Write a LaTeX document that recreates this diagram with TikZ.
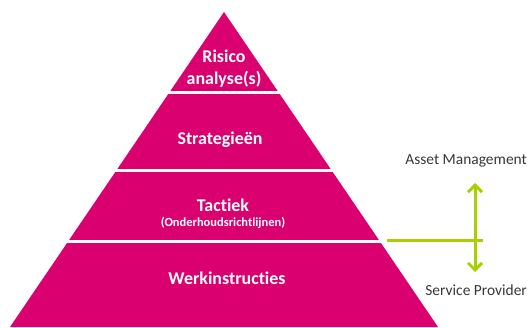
\documentclass[tikz,border=0pt]{standalone}
\usepackage{fontspec}
\setmainfont{Carlito}[Ligatures={NoCommon,NoContextual}]
\usetikzlibrary{arrows.meta,positioning}
\definecolor{pyrpink}{RGB}{218,0,112}
\definecolor{limegreen}{RGB}{168,207,0}
\definecolor{labelgray}{RGB}{55,55,55}
\tikzset{
    layer/.style={
           text=white,
           font=\bfseries\fontsize{18}{22}\selectfont,
           align=center,
           inner sep=1pt,
           },
    sublayer/.style={
           layer,
           font=\bfseries\fontsize{12.5}{15}\selectfont,
           },
    side/.style={
           text=labelgray,
           font=\fontsize{15.5}{18}\selectfont,
           anchor=east,
           inner sep=1pt,
           },
    link/.style={
           draw=limegreen,
           line width=3bp,
           },
}

\begin{document}
\begin{tikzpicture}[x=1bp,y=-1bp]
        \useasboundingbox (0,0) rectangle (530,327);
        % pyramid and the cuts between the layers
        \fill[pyrpink] (224,12) -- (438,327) -- (10,327) -- cycle;
        \foreach \h in {92,170,241}
            \draw[white, line width=3bp] (0,\h) -- (385,\h);

        \node[layer] (risico) at (224,69) {Risico\\analyse(s)};
        \node[layer] (strat) at (220,140) {Strategieën};
        \node[layer] (tactiek) at (223,205) {Tactiek};
        \node[sublayer, below=4pt of tactiek] (richtl) {(Onderhoudsrichtlijnen)};
        \node[layer] (werk) at (227,278) {Werkinstructies};

        \node[side] (am) at (528,161) {Asset Management};
        \node[side] (sp) at (528,290) {Service Provider};

        \coordinate (amtip) at (475,183);
        \coordinate (sptip) at (475,272);
        \coordinate (cutend) at (387,240);
        \coordinate (cross) at (483,240);

        \draw[link, {Straight Barb[length=7bp,width=14bp]}-{Straight Barb[length=7bp,width=14bp]}] (amtip) -- (sptip);
        \draw[link] (cutend) -- (cross);
    \end{tikzpicture}
\end{document}
